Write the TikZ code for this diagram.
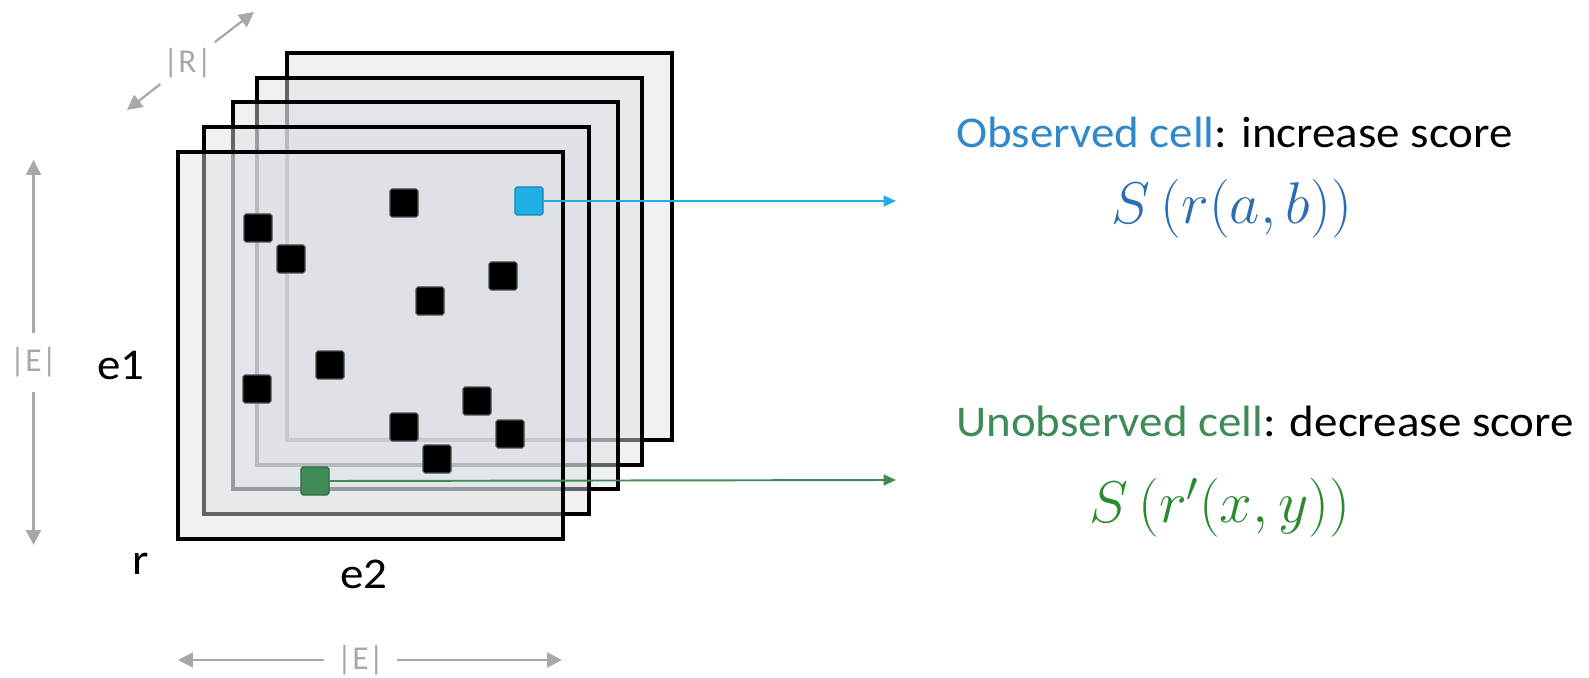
\RequirePackage{fix-cm}
\documentclass[tikz,border=0pt]{standalone}
\usepackage{amsmath}
\usepackage{fontspec}
\setmainfont{Carlito}
\usetikzlibrary{positioning, calc, arrows.meta}

\definecolor{sheetfill}{HTML}{DCE0E5}
\definecolor{obsblue}{HTML}{1FAEE5}
\definecolor{obsedge}{HTML}{1A80B3}
\definecolor{obstext}{HTML}{2E88CA}
\definecolor{obsmath}{HTML}{2B6DB2}
\definecolor{unobsgreen}{HTML}{3F8A55}
\definecolor{unobsedge}{HTML}{2C6A3E}
\definecolor{unobstext}{HTML}{3E8B58}
\definecolor{unobsmath}{HTML}{2A8A2E}
\definecolor{dimgray}{HTML}{A8A8A8}

\newcommand{\wide}[1]{\scalebox{1.07}[1]{#1}}

\tikzset{
  sheet/.style={draw=black, line width=2pt, fill=sheetfill, fill opacity=0.45},
  cell/.style={draw=gray!60!black, fill=black, line width=0.6pt, minimum size=0.56cm, inner sep=0pt, rounded corners=1pt},
  conn/.style={line width=1.1pt, -{Triangle[length=0.25cm, width=0.22cm]}},
  dimarrow/.style={dimgray, line width=1.3pt, -{Triangle[length=0.3cm, width=0.3cm]}},
  dimlbl/.style={text=dimgray, font=\fontsize{19}{23}\selectfont, inner sep=0pt},
  lbl/.style={font=\fontsize{25}{30}\selectfont},
  formula/.style={font=\fontsize{33.5}{40}\selectfont}
}

\begin{document}
\begin{tikzpicture}[x=0.02cm, y=-0.02cm]
    \useasboundingbox (0,0) rectangle (1589,678);

    % Stack of slices, back to front
    \foreach \sx/\sy in {287/53, 257/78, 233/102, 204/127, 178/152}
        \draw[sheet] (\sx,\sy) rectangle ++(385,387);

    % Known cells
    \foreach \cx/\cy [count=\i] in {404/203, 258/228, 291/259, 503/276, 430/301,
                                    330/365, 257/389, 477/401, 404/427, 510/434, 437/459}
        \node[cell] (c\i) at (\cx,\cy) {};

    % Highlighted cells
    \node[cell, fill=obsblue, draw=obsedge] (obs) at (529,201) {};
    \node[cell, fill=unobsgreen, draw=unobsedge] (unobs) at (315,481) {};

    % Connectors
    \coordinate (obsend) at (896,201);
    \coordinate (unobsend) at (896,480);
    \draw[conn, obsblue] (obs.east) -- (obsend);
    \draw[conn, unobsgreen] (unobs.east) -- (unobsend);

    % Right-hand texts
    \node[lbl, anchor=base west] (obstxt) at (950,148)
        {\wide{\textcolor{obstext}{Observed cell}: increase score}};
    \node[formula, anchor=base, text=obsmath] (obsS) at (1232,224)
        {$S\left(r(a,b)\right)$};
    \node[lbl, anchor=base west] (unobstxt) at (950,437)
        {\wide{\textcolor{unobstext}{Unobserved cell}: decrease score}};
    \node[formula, anchor=base, text=unobsmath] (unobsS) at (1220,523)
        {$S\left(r'(x,y)\right)$};

    % Axis labels
    \node[lbl, anchor=base] (e1) at (121,380) {\wide{e1}};
    \node[lbl, anchor=base] (rlab) at (141,575) {\wide{r}};
    \node[lbl, anchor=base] (e2) at (364,588) {\wide{e2}};

    % Dimension arrows
    \node[dimlbl, minimum height=1.18cm] (Ev) at (33.5,362.5) {|E|};
    \coordinate (Evtop) at (33.5,160);
    \coordinate (Evbot) at (33.5,545);
    \draw[dimarrow] (Ev) -- (Evtop);
    \draw[dimarrow] (Ev) -- (Evbot);

    \node[dimlbl, minimum width=1.46cm] (Eh) at (360.5,660) {|E|};
    \coordinate (Ehleft) at (178,660);
    \coordinate (Ehright) at (562,660);
    \draw[dimarrow] (Eh) -- (Ehleft);
    \draw[dimarrow] (Eh) -- (Ehright);

    \node[dimlbl, circle, minimum size=1.36cm] (Rd) at (187.5,63) {|R|};
    \coordinate (Rback) at (254,12);
    \coordinate (Rfront) at (127,110);
    \draw[dimarrow] (Rd) -- (Rback);
    \draw[dimarrow] (Rd) -- (Rfront);
\end{tikzpicture}
\end{document}
